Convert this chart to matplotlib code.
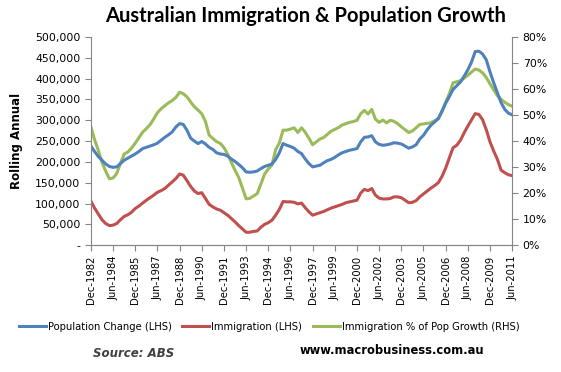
import matplotlib.pyplot as plt
import numpy as np
from matplotlib.ticker import FuncFormatter

# Quarterly rolling annual data, Dec-1982 .. Jun-2011 (115 quarters)
tick_labels = ['Dec-1982', 'Jun-1984', 'Dec-1985', 'Jun-1987', 'Dec-1988', 'Jun-1990',
               'Dec-1991', 'Jun-1993', 'Dec-1994', 'Jun-1996', 'Dec-1997', 'Jun-1999',
               'Dec-2000', 'Jun-2002', 'Dec-2003', 'Jun-2005', 'Dec-2006', 'Jun-2008',
               'Dec-2009', 'Jun-2011']

# population change (thousands, LHS)
pop_change = [238, 225, 213, 204, 195, 189, 187, 188, 196, 204,
              209, 214, 219, 225, 232, 235, 238, 241, 245, 252,
              259, 265, 272, 284, 292, 290, 276, 257, 250, 244,
              249, 243, 235, 230, 222, 219, 218, 214, 207, 201,
              194, 186, 176, 175, 176, 178, 184, 189, 192, 195,
              206, 222, 244, 240, 237, 233, 225, 220, 207, 196,
              188, 190, 192, 198, 203, 206, 211, 217, 222, 225,
              228, 230, 232, 248, 259, 260, 263, 248, 242, 240,
              241, 243, 246, 245, 243, 238, 233, 236, 241, 255,
              264, 277, 288, 296, 304, 322, 341, 357, 374, 383,
              392, 406, 421, 440, 465, 466, 459, 445, 416, 390,
              366, 342, 326, 317, 313]

# immigration (thousands, LHS)
immigration = [106, 89, 75, 61, 52, 47, 48, 52, 61, 69,
               73, 79, 88, 94, 101, 108, 114, 120, 127, 131,
               136, 144, 152, 160, 171, 168, 155, 141, 130, 124,
               126, 112, 98, 92, 87, 84, 78, 72, 64, 56,
               47, 39, 31, 31, 33, 34, 43, 50, 54, 60,
               72, 86, 105, 104, 104, 103, 99, 101, 90, 80,
               72, 75, 78, 81, 85, 89, 92, 95, 98, 102,
               104, 106, 108, 125, 134, 131, 136, 120, 113, 111,
               111, 112, 116, 116, 114, 108, 102, 103, 107, 116,
               123, 130, 137, 143, 150, 165, 185, 210, 234, 240,
               252, 270, 286, 301, 316, 314, 301, 277, 248, 226,
               206, 180, 174, 169, 167]

# immigration as % of population growth (RHS)
imm_pct = [45.5, 40.5, 36.5, 31.8, 28.5, 25.5, 25.8, 27.5, 31.5, 35.0,
           35.8, 37.3, 39.2, 41.3, 43.4, 44.8, 46.3, 48.5, 50.9, 52.4,
           53.6, 54.7, 55.6, 56.8, 58.8, 58.2, 57.0, 55.0, 53.2, 51.9,
           50.5, 47.5, 42.3, 41.0, 39.8, 39.1, 37.5, 35.0, 31.8, 28.8,
           26.0, 22.0, 17.8, 18.0, 18.9, 19.8, 23.5, 27.3, 29.3, 30.8,
           36.7, 39.3, 44.2, 44.2, 44.6, 45.1, 43.3, 45.1, 43.4, 41.1,
           38.6, 39.7, 40.8, 41.4, 42.6, 43.8, 44.5, 45.2, 46.2, 46.7,
           47.2, 47.5, 48.0, 50.5, 51.8, 50.4, 52.2, 48.4, 47.2, 48.1,
           47.0, 48.0, 47.6, 46.7, 45.5, 44.4, 43.3, 43.9, 45.1, 46.4,
           46.6, 46.8, 47.0, 47.8, 48.6, 51.3, 54.9, 58.2, 62.4, 62.8,
           63.2, 64.2, 65.3, 66.5, 67.7, 67.3, 66.2, 64.4, 62.0, 59.7,
           57.5, 56.0, 54.9, 54.0, 53.4]

blue = '#4F81BD'
red = '#C0504D'
green = '#9BBB59'
axis_grey = '#868686'

x = np.arange(len(pop_change))
pop = np.array(pop_change) * 1000
imm = np.array(immigration) * 1000
pct = np.array(imm_pct) / 100

fig = plt.figure(figsize=(5.61, 3.72), dpi=100)
ax = fig.add_axes([0.162, 0.341, 0.751, 0.5595])
ax2 = ax.twinx()

l1, = ax.plot(x, pop, color=blue, lw=2.2, label='Population Change (LHS)')
l2, = ax.plot(x, imm, color=red, lw=2.2, label='Immigration (LHS)')
l3, = ax2.plot(x, pct, color=green, lw=2.2, label='Immigration % of Pop Growth (RHS)')
ax.set_zorder(ax2.get_zorder() + 1)
ax.patch.set_visible(False)

ax.set_xlim(0, len(x) - 1)
ax.set_ylim(0, 500000)
ax.set_yticks(np.arange(0, 500001, 50000))
ax.yaxis.set_major_formatter(FuncFormatter(lambda v, p: '-' if v == 0 else f'{int(v):,}'))
ax2.set_ylim(0, 0.8)
ax2.set_yticks(np.arange(0, 0.81, 0.1))
ax2.yaxis.set_major_formatter(FuncFormatter(lambda v, p: f'{v*100:.0f}%'))

ax.set_xticks(x[::6])
ax.set_xticklabels(tick_labels, rotation=90, fontsize=7.2)

for a in (ax, ax2):
    a.spines['top'].set_visible(False)
    for s in ('left', 'right', 'bottom'):
        a.spines[s].set_color(axis_grey)
    a.tick_params(colors=axis_grey, labelcolor='black', length=4, width=0.8)
ax.spines['right'].set_visible(False)
ax2.spines['left'].set_visible(False)
ax.tick_params(axis='y', labelsize=7.8)
ax2.tick_params(axis='y', labelsize=7.8)

fig.text(0.03, 0.62, 'Rolling Annual', rotation=90, ha='center', va='center',
         fontsize=8.5, fontweight='bold')
fig.text(0.545, 0.958, 'Australian Immigration & Population Growth', ha='center', va='center',
         fontsize=14.5, fontweight='bold', family='Lato')

fig.legend(handles=[l1, l2, l3], loc='center', bbox_to_anchor=(0.48, 0.121), ncol=3,
           frameon=False, fontsize=7.2, handlelength=2.7, columnspacing=1.1,
           handletextpad=0.2, borderaxespad=0)

fig.text(0.239, 0.051, 'Source: ABS', ha='center', va='center', fontsize=8.5,
         fontweight='bold', style='italic', color='#404040')
fig.text(0.699, 0.059, 'www.macrobusiness.com.au', ha='center', va='center',
         fontsize=8.3, fontweight='bold', color='black')

fig.savefig('out.png', dpi=100)
